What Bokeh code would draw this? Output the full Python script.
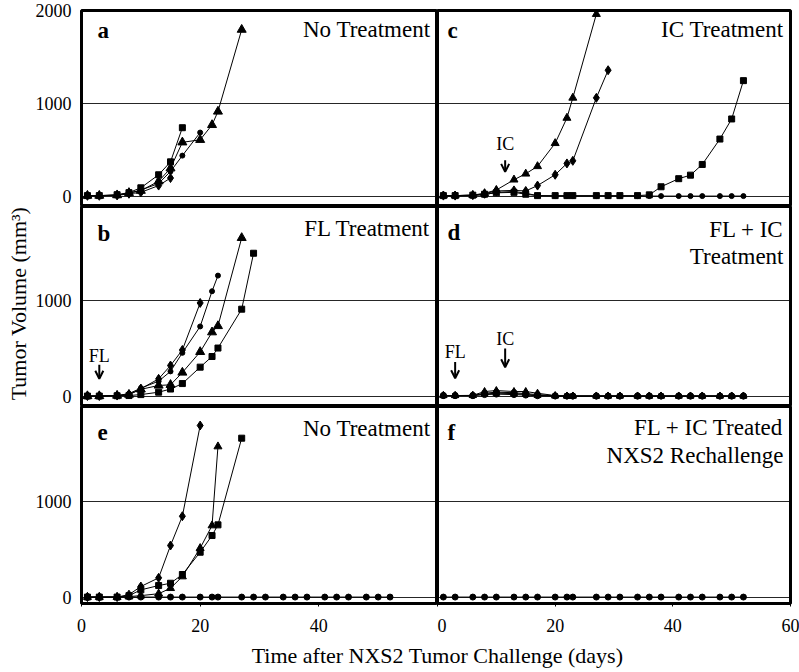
import math
from bokeh.plotting import figure
from bokeh.models import Range1d, FixedTicker, Label, Arrow, OpenHead, Grid
from bokeh.layouts import gridplot, row, column
from bokeh.embed import file_html
from bokeh.resources import INLINE

# ---------------- data (days after challenge, tumor volume mm^3) ----------------
DAYS = [1, 3, 6, 8, 10, 13, 15, 17, 20, 22, 23, 27, 29, 31, 34, 36, 38, 41, 43, 45, 48, 50, 52]

# a: No Treatment
a_tri_x = [1, 3, 6, 8, 10, 13, 15, 17, 20, 22, 23, 27]
a_tri_y = [10, 10, 15, 40, 63, 164, 304, 583, 610, 770, 914, 1794]
a_sq_x = [1, 3, 6, 8, 10, 13, 15, 17]
a_sq_y = [10, 10, 20, 42, 94, 234, 373, 740]
a_cir_x = [1, 3, 6, 8, 10, 13, 15, 17, 20]
a_cir_y = [8, 8, 15, 35, 70, 140, 270, 440, 688]
a_dia_x = [1, 3, 6, 8, 10, 13, 15]
a_dia_y = [8, 8, 12, 30, 45, 118, 199]

# b: FL Treatment
b_cir_x = [1, 3, 6, 8, 10, 13, 15, 17, 20, 22, 23]
b_cir_y = [5, 5, 10, 30, 87, 160, 262, 455, 730, 1097, 1260]
b_dia_x = [1, 3, 6, 8, 10, 13, 15, 17, 20]
b_dia_y = [5, 5, 10, 21, 80, 184, 323, 485, 975]
b_tri_x = [1, 3, 6, 8, 10, 13, 15, 17, 20, 22, 23, 27]
b_tri_y = [5, 5, 10, 20, 75, 115, 122, 250, 465, 670, 735, 1653]
b_sq_x = [1, 3, 6, 8, 10, 13, 15, 17, 20, 22, 23, 27, 29]
b_sq_y = [5, 5, 8, 10, 20, 45, 78, 135, 306, 417, 505, 910, 1493]

# c: IC Treatment
c_tri_x = [1, 3, 6, 8, 10, 13, 15, 17, 20, 22, 23, 27]
c_tri_y = [10, 10, 15, 35, 70, 181, 245, 325, 573, 845, 1061, 1961]
c_dia_x = [1, 3, 6, 8, 10, 13, 15, 17, 20, 22, 23, 27, 29]
c_dia_y = [10, 10, 15, 30, 60, 66, 60, 118, 234, 356, 384, 1061, 1358]
c_sq_y = [10, 10, 15, 25, 40, 45, 25, 10, 10, 10, 10, 10, 10, 10, 10, 18, 105, 192, 230, 345, 618, 834, 1246]
c_cir_y = [5, 5, 10, 20, 45, 55, 35, 10, 5, 5, 5, 5, 5, 5, 5, 5, 5, 5, 5, 5, 5, 5, 5]

# d: FL + IC Treatment
d_s1_y = [10, 10, 12, 52, 62, 52, 52, 34, 10, 5, 5, 5, 5, 5, 5, 5, 5, 5, 5, 5, 5, 5, 5]
d_s2_y = [10, 10, 10, 35, 45, 40, 30, 20, 8, 5, 5, 5, 5, 5, 5, 5, 5, 5, 5, 5, 5, 5, 5]
d_s3_y = [10, 10, 10, 25, 35, 30, 22, 12, 5, 5, 5, 5, 5, 5, 5, 5, 5, 5, 5, 5, 5, 5, 5]
d_s4_y = [10, 10, 10, 20, 25, 20, 15, 8, 5, 5, 5, 5, 5, 5, 5, 5, 5, 5, 5, 5, 5, 5, 5]

# e: No Treatment (control for rechallenge)
e_dia_x = [1, 3, 6, 8, 10, 13, 15, 17, 20]
e_dia_y = [5, 5, 5, 30, 115, 205, 542, 847, 1792]
e_tri_x = [1, 3, 6, 8, 10, 13, 15, 17, 20, 22, 23]
e_tri_y = [5, 5, 5, 10, 20, 40, 97, 219, 514, 750, 1573]
e_sq_x = [1, 3, 6, 8, 10, 13, 15, 17, 20, 22, 23, 27]
e_sq_y = [5, 5, 5, 20, 80, 125, 149, 240, 472, 646, 757, 1660]
e_cir_y = [5, 5, 5, 5, 5, 5, 5, 5, 5, 5, 5, 5, 5, 5, 5, 5, 5, 5, 5, 5, 5, 5, 5]

# f: FL + IC treated, NXS2 rechallenge
f_cir_y = [5, 5, 5, 5, 5, 5, 5, 5, 5, 5, 5, 5, 5, 5, 5, 5, 5, 5, 5, 5, 5, 5, 5]

GRID_TICKS = [0, 1000, 2000]
Y_TICKS_TOP = [0, 1000, 2000]
Y_TICKS = [0, 1000]
X_TICKS_LEFT = [0, 20, 40]
X_TICKS_RIGHT = [0, 20, 40, 60]

FONT = "Liberation Serif"

Y_A = (-107, 2000)
Y_B = (-104, 1980)
Y_E = (-62, 1990)


def panel(yr, width, height, left, right, top, bottom, yticks=None, xticks=None):
    p = figure(width=width, height=height, x_range=Range1d(0, 60), y_range=Range1d(*yr),
               output_backend="svg", toolbar_location=None,
               x_axis_location="below" if xticks else None,
               y_axis_location="left" if yticks else None,
               min_border_left=left, min_border_right=right,
               min_border_top=top, min_border_bottom=bottom,
               background_fill_color="white", border_fill_color="white")
    p.outline_line_color = "black"
    p.outline_line_width = 3
    p.outline_line_alpha = 1.0
    p.center = [r for r in p.center if not isinstance(r, Grid)]
    p.add_layout(Grid(dimension=1, ticker=FixedTicker(ticks=GRID_TICKS),
                      grid_line_color="black", grid_line_width=1, grid_line_alpha=0.85))
    if yticks:
        ax = p.yaxis[0]
        ax.ticker = FixedTicker(ticks=yticks)
        ax.major_label_text_font = FONT
        ax.major_label_text_font_size = "18px"
        ax.major_label_text_color = "black"
        ax.major_tick_out = 0
        ax.major_tick_in = 0
        ax.minor_tick_out = 0
        ax.minor_tick_in = 0
        ax.axis_line_color = None
        ax.major_label_standoff = 10
    if xticks:
        ax = p.xaxis[0]
        ax.ticker = FixedTicker(ticks=xticks)
        ax.major_label_text_font = FONT
        ax.major_label_text_font_size = "18px"
        ax.major_label_text_color = "black"
        ax.major_tick_out = 3
        ax.major_tick_in = 0
        ax.minor_tick_out = 0
        ax.minor_tick_in = 0
        ax.major_tick_line_color = "black"
        ax.axis_line_color = None
        ax.major_label_standoff = 12
    return p


def series(p, xs, ys, marker, size):
    p.line(xs, ys, line_color="black", line_width=1)
    p.scatter(xs, ys, marker=marker, size=size, fill_color="black", line_color="black")


def letter(p, txt, y_top, dx, dy):
    p.add_layout(Label(x=0, y=y_top, x_offset=dx, y_offset=-dy, text=txt,
                       text_font=FONT, text_font_style="bold", text_font_size="23px",
                       text_color="black", text_align="left", text_baseline="alphabetic"))


def title(p, txt, y_top, dy):
    p.add_layout(Label(x=60, y=y_top, x_offset=-7, y_offset=-dy, text=txt,
                       text_font=FONT, text_font_size="23px", text_color="black",
                       text_align="right", text_baseline="alphabetic"))


def marker_note(p, txt, x, y_text, y_start, y_end):
    p.add_layout(Label(x=x, y=y_text, text=txt, text_font=FONT, text_font_size="18px",
                       text_color="black", text_align="center", text_baseline="middle"))
    p.add_layout(Arrow(end=OpenHead(size=8, line_width=2, line_color="black"),
                       x_start=x, y_start=y_start, x_end=x, y_end=y_end,
                       line_width=2, line_color="black"))


YT_W = 32
LB, RB = 49, 9
LW, RW = LB + 356, 353 + RB
TOP_B, BOT_B = 10, 38
HA, HB, HE = TOP_B + 196, 200, 197 + BOT_B

pa = panel(Y_A, LW, HA, LB, 0, TOP_B, 0, yticks=Y_TICKS_TOP)
pc = panel(Y_A, RW, HA, 0, RB, TOP_B, 0)
pb = panel(Y_B, LW, HB, LB, 0, 0, 0, yticks=Y_TICKS)
pd = panel(Y_B, RW, HB, 0, RB, 0, 0)
pe = panel(Y_E, LW, HE, LB, 0, 0, BOT_B, yticks=Y_TICKS, xticks=X_TICKS_LEFT)
pf = panel(Y_E, RW, HE, 0, RB, 0, BOT_B, xticks=X_TICKS_RIGHT)

# panel a
series(pa, a_dia_x, a_dia_y, "diamond", 9)
series(pa, a_cir_x, a_cir_y, "circle", 5)
series(pa, a_sq_x, a_sq_y, "square", 6)
series(pa, a_tri_x, a_tri_y, "triangle", 9)
letter(pa, "a", Y_A[1], 16, 20)
title(pa, "No Treatment", Y_A[1], 19)

# panel c
series(pc, DAYS, c_cir_y, "circle", 5)
series(pc, DAYS, c_sq_y, "square", 6)
series(pc, c_dia_x, c_dia_y, "diamond", 9)
series(pc, c_tri_x, c_tri_y, "triangle", 8)
letter(pc, "c", Y_A[1], 10, 20)
title(pc, "IC Treatment", Y_A[1], 19)
marker_note(pc, "IC", 11.5, 565, 390, 265)

# panel b
series(pb, b_sq_x, b_sq_y, "square", 6)
series(pb, b_tri_x, b_tri_y, "triangle", 9)
series(pb, b_dia_x, b_dia_y, "diamond", 9)
series(pb, b_cir_x, b_cir_y, "circle", 5)
letter(pb, "b", Y_B[1], 16, 27)
title(pb, "FL Treatment", Y_B[1], 22)
marker_note(pb, "FL", 3, 427, 330, 185)

# panel d
series(pd, DAYS, d_s4_y, "circle", 6)
series(pd, DAYS, d_s3_y, "triangle", 7)
series(pd, DAYS, d_s2_y, "circle", 6)
series(pd, DAYS, d_s1_y, "triangle", 7)
letter(pd, "d", Y_B[1], 10, 26)
title(pd, "FL + IC", Y_B[1], 23)
title(pd, "Treatment", Y_B[1], 50)
marker_note(pd, "FL", 3, 461, 360, 190)
marker_note(pd, "IC", 11.5, 601, 500, 305)

# panel e
series(pe, DAYS, e_cir_y, "circle", 6)
series(pe, e_sq_x, e_sq_y, "square", 6)
series(pe, e_tri_x, e_tri_y, "triangle", 8)
series(pe, e_dia_x, e_dia_y, "diamond", 9)
letter(pe, "e", Y_E[1], 16, 26)
title(pe, "No Treatment", Y_E[1], 22)

# panel f
series(pf, DAYS, f_cir_y, "circle", 6)
letter(pf, "f", Y_E[1], 10, 26)
title(pf, "FL + IC Treated", Y_E[1], 21)
title(pf, "NXS2 Rechallenge", Y_E[1], 49)

grid = gridplot([[pa, pc], [pb, pd], [pe, pf]], toolbar_location=None)

GRID_H = HA + HB + HE


def blank(width, height):
    p = figure(width=width, height=height, x_range=Range1d(0, width), y_range=Range1d(0, height),
               output_backend="svg", toolbar_location=None, x_axis_location=None,
               y_axis_location=None, min_border=0, outline_line_color=None,
               background_fill_color="white", border_fill_color="white")
    p.grid.visible = False
    return p


pyt = blank(YT_W, GRID_H)
pyt.add_layout(Label(x=18, y=GRID_H - 303, text="Tumor Volume (mm³)", angle=math.pi / 2,
                     text_font=FONT, text_font_size="22px", text_color="black",
                     text_align="center", text_baseline="middle"))

XT_H = 31
pxt = blank(YT_W + LW + RW, XT_H)
pxt.add_layout(Label(x=437, y=XT_H - 14, text="Time after NXS2 Tumor Challenge (days)",
                     text_font=FONT, text_font_size="22px", text_color="black",
                     text_align="center", text_baseline="middle"))

layout = column(row(pyt, grid), pxt)

open("out.html", "w").write(file_html(layout, INLINE))
